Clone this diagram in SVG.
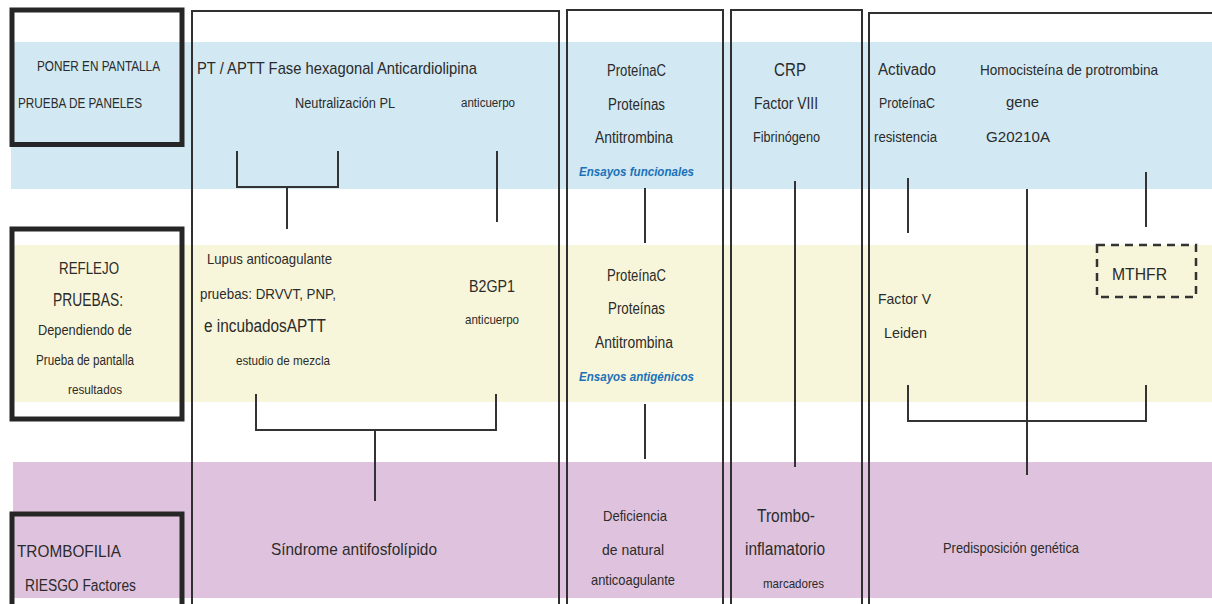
<svg xmlns="http://www.w3.org/2000/svg" width="1212" height="604" viewBox="0 0 1212 604">
  <style>
    .band-blue { fill: #d2e8f2; }
    .band-yellow { fill: #f8f6da; }
    .band-pink { fill: #dfc3de; }
    .heavy { fill: none; stroke: #262626; stroke-width: 5; }
    .frame { fill: none; stroke: #303030; stroke-width: 2; }
    .link { fill: none; stroke: #333333; stroke-width: 2; }
    .dashed { fill: none; stroke: #333333; stroke-width: 2.5; stroke-dasharray: 8 6; }
    text { font-family: "Liberation Sans", Arial, sans-serif; fill: #2b2b2b; }
    .assay { fill: #1b72b8; font-weight: bold; font-style: italic; font-size: 13px; }
  </style>

  <!-- horizontal tier bands -->
  <g id="bands">
    <rect class="band-blue" x="11" y="42" width="1201" height="147"/>
    <rect class="band-yellow" x="13" y="245" width="1199" height="157"/>
    <rect class="band-pink" x="13" y="462" width="1199" height="136"/>
  </g>

  <!-- column frames (open at the bottom) -->
  <g id="frames">
    <path class="frame" d="M192 610 V11 H559 V610"/>
    <path class="frame" d="M567 610 V10 H723 V610"/>
    <path class="frame" d="M731 610 V10 H862 V610"/>
    <path class="frame" d="M869 610 V13 H1214"/>
  </g>

  <!-- tier label boxes -->
  <g id="tier-screen">
    <rect class="heavy" x="12" y="10" width="170" height="134.5"/>
    <text x="37" y="71" font-size="15" textLength="123" lengthAdjust="spacingAndGlyphs">PONER EN PANTALLA</text>
    <text x="18" y="108" font-size="15" textLength="124" lengthAdjust="spacingAndGlyphs">PRUEBA DE PANELES</text>
  </g>
  <g id="tier-reflex">
    <rect class="heavy" x="12" y="229" width="170" height="190"/>
    <text x="59" y="274" font-size="16" textLength="60" lengthAdjust="spacingAndGlyphs">REFLEJO</text>
    <text x="53" y="306" font-size="18" textLength="70" lengthAdjust="spacingAndGlyphs">PRUEBAS:</text>
    <text x="38" y="335" font-size="15" textLength="94" lengthAdjust="spacingAndGlyphs">Dependiendo de</text>
    <text x="36" y="365" font-size="14" textLength="98" lengthAdjust="spacingAndGlyphs">Prueba de pantalla</text>
    <text x="68" y="394" font-size="13" textLength="54" lengthAdjust="spacingAndGlyphs">resultados</text>
  </g>
  <g id="tier-risk">
    <path class="heavy" d="M12 610 V514 H182 V610"/>
    <text x="17" y="557" font-size="17" textLength="104" lengthAdjust="spacingAndGlyphs">TROMBOFILIA</text>
    <text x="25" y="591" font-size="16" textLength="111" lengthAdjust="spacingAndGlyphs">RIESGO Factores</text>
  </g>

  <!-- connectors -->
  <g id="connectors">
    <path class="link" d="M237 151 V187 H338 V151 M287 187 V229"/>
    <path class="link" d="M497 151 V222"/>
    <path class="link" d="M256 394 V430 H496 V394 M375 430 V501"/>
    <path class="link" d="M645 188 V243"/>
    <path class="link" d="M645 404 V459"/>
    <path class="link" d="M795 181 V467"/>
    <path class="link" d="M908 178 V233"/>
    <path class="link" d="M1146 172 V227"/>
    <path class="link" d="M908 385 V421 H1146 V385"/>
    <path class="link" d="M1027 189 V475"/>
  </g>

  <!-- antiphospholipid column -->
  <g id="node-pt-aptt">
    <text x="197" y="74" font-size="17" textLength="280" lengthAdjust="spacingAndGlyphs">PT / APTT Fase hexagonal Anticardiolipina</text>
    <text x="295" y="108" font-size="15" textLength="100" lengthAdjust="spacingAndGlyphs">Neutralización PL</text>
    <text x="461" y="107" font-size="12" textLength="54" lengthAdjust="spacingAndGlyphs">anticuerpo</text>
  </g>
  <g id="node-lupus">
    <text x="207" y="264" font-size="15" textLength="125" lengthAdjust="spacingAndGlyphs">Lupus anticoagulante</text>
    <text x="200" y="299" font-size="15" textLength="136" lengthAdjust="spacingAndGlyphs">pruebas: DRVVT, PNP,</text>
    <text x="204" y="332" font-size="18" textLength="122" lengthAdjust="spacingAndGlyphs">e incubadosAPTT</text>
    <text x="236" y="365" font-size="13" textLength="94" lengthAdjust="spacingAndGlyphs">estudio de mezcla</text>
  </g>
  <g id="node-b2gp1">
    <text x="469" y="292" font-size="17" textLength="46" lengthAdjust="spacingAndGlyphs">B2GP1</text>
    <text x="465" y="324" font-size="13" textLength="54" lengthAdjust="spacingAndGlyphs">anticuerpo</text>
  </g>
  <g id="node-aps">
    <text x="271" y="555" font-size="17" textLength="166" lengthAdjust="spacingAndGlyphs">Síndrome antifosfolípido</text>
  </g>

  <!-- natural anticoagulant column -->
  <g id="node-functional">
    <text x="607" y="76" font-size="16" textLength="59" lengthAdjust="spacingAndGlyphs">ProteínaC</text>
    <text x="608" y="110" font-size="16" textLength="57" lengthAdjust="spacingAndGlyphs">Proteínas</text>
    <text x="595" y="143" font-size="16" textLength="78" lengthAdjust="spacingAndGlyphs">Antitrombina</text>
    <text class="assay" x="579" y="176" textLength="115" lengthAdjust="spacingAndGlyphs">Ensayos funcionales</text>
  </g>
  <g id="node-antigenic">
    <text x="607" y="281" font-size="16" textLength="59" lengthAdjust="spacingAndGlyphs">ProteínaC</text>
    <text x="608" y="314" font-size="16" textLength="57" lengthAdjust="spacingAndGlyphs">Proteínas</text>
    <text x="595" y="348" font-size="16" textLength="78" lengthAdjust="spacingAndGlyphs">Antitrombina</text>
    <text class="assay" x="579" y="381" textLength="115" lengthAdjust="spacingAndGlyphs">Ensayos antigénicos</text>
  </g>
  <g id="node-deficiency">
    <text x="603" y="521" font-size="15" textLength="64" lengthAdjust="spacingAndGlyphs">Deficiencia</text>
    <text x="602" y="555" font-size="15" textLength="62" lengthAdjust="spacingAndGlyphs">de natural</text>
    <text x="591" y="585" font-size="15" textLength="84" lengthAdjust="spacingAndGlyphs">anticoagulante</text>
  </g>

  <!-- thrombo-inflammatory column -->
  <g id="node-crp">
    <text x="774" y="76" font-size="18" textLength="32" lengthAdjust="spacingAndGlyphs">CRP</text>
    <text x="754" y="109" font-size="17" textLength="64" lengthAdjust="spacingAndGlyphs">Factor VIII</text>
    <text x="753" y="142" font-size="14" textLength="67" lengthAdjust="spacingAndGlyphs">Fibrinógeno</text>
  </g>
  <g id="node-inflammatory">
    <text x="757" y="522" font-size="18" textLength="58" lengthAdjust="spacingAndGlyphs">Trombo-</text>
    <text x="745" y="555" font-size="18" textLength="80" lengthAdjust="spacingAndGlyphs">inflamatorio</text>
    <text x="763" y="588" font-size="13" textLength="61" lengthAdjust="spacingAndGlyphs">marcadores</text>
  </g>

  <!-- genetic column -->
  <g id="node-apc">
    <text x="878" y="75" font-size="16" textLength="58" lengthAdjust="spacingAndGlyphs">Activado</text>
    <text x="879" y="108" font-size="14" textLength="56" lengthAdjust="spacingAndGlyphs">ProteínaC</text>
    <text x="874" y="142" font-size="14" textLength="63" lengthAdjust="spacingAndGlyphs">resistencia</text>
  </g>
  <g id="node-prothrombin">
    <text x="980" y="75" font-size="15" textLength="178" lengthAdjust="spacingAndGlyphs">Homocisteína de protrombina</text>
    <text x="1006" y="107" font-size="15" textLength="33" lengthAdjust="spacingAndGlyphs">gene</text>
    <text x="986" y="142" font-size="15" textLength="64" lengthAdjust="spacingAndGlyphs">G20210A</text>
  </g>
  <g id="node-fvl">
    <text x="878" y="304" font-size="15" textLength="53" lengthAdjust="spacingAndGlyphs">Factor V</text>
    <text x="884" y="338" font-size="15" textLength="43" lengthAdjust="spacingAndGlyphs">Leiden</text>
  </g>
  <g id="node-mthfr">
    <rect class="dashed" x="1097" y="245" width="99" height="52"/>
    <text x="1112" y="280" font-size="17" textLength="55" lengthAdjust="spacingAndGlyphs">MTHFR</text>
  </g>
  <g id="node-genetic">
    <text x="943" y="553" font-size="15" textLength="136" lengthAdjust="spacingAndGlyphs">Predisposición genética</text>
  </g>
</svg>
